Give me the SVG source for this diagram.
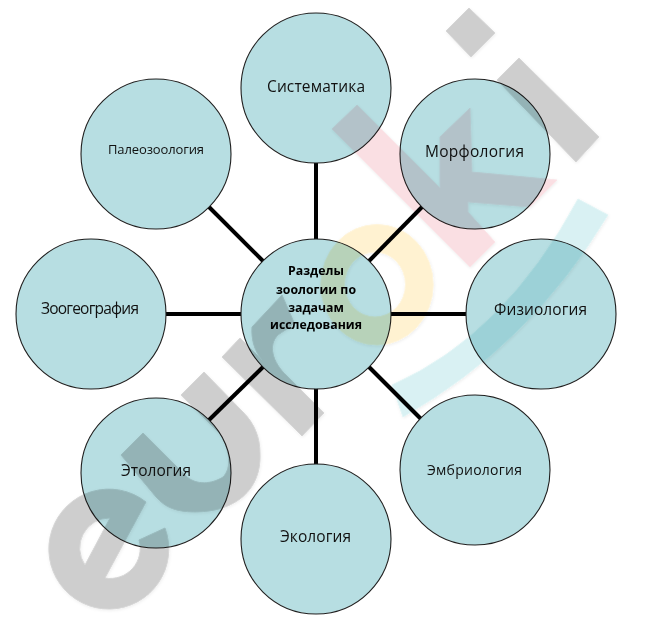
<svg xmlns="http://www.w3.org/2000/svg" width="653" height="624" viewBox="0 0 653 624">
<style>
.n{fill:#B7DEE2;stroke:#1f1f1f;stroke-width:1.1}
.t{font-family:"Open Sans","Noto Sans","Liberation Sans",sans-serif;font-size:15.5px;fill:#111}
.s{font-size:14px}
.p{font-size:13px}
.b{font-family:"Open Sans","Noto Sans","Liberation Sans",sans-serif;font-size:12.3px;font-weight:700;fill:#000;text-anchor:middle}
.c line{stroke:#000;stroke-width:4}
.w{mix-blend-mode:multiply}
.g{fill:#CECECE;stroke:#D6D6D6;stroke-width:1}
</style>
<defs>
<filter id="sh" x="-10%" y="-10%" width="120%" height="120%"><feDropShadow dx="0.5" dy="1" stdDeviation="1.5" flood-color="#000" flood-opacity="0.07"/></filter>
</defs>
<rect width="653" height="624" fill="#fff"/>
<g id="connectors" class="c">
<line x1="316" y1="163" x2="316" y2="240"/>
<line x1="316" y1="388" x2="316" y2="465"/>
<line x1="166" y1="314" x2="241" y2="314"/>
<line x1="391" y1="314" x2="466" y2="314"/>
<line x1="209" y1="207" x2="263" y2="261"/>
<line x1="422" y1="207" x2="369" y2="261"/>
<line x1="209" y1="420" x2="263" y2="367"/>
<line x1="422" y1="420" x2="369" y2="367"/>
</g>
<g id="node-center"><circle class="n" cx="316" cy="314" r="75"/></g>
<g id="node-systematika"><circle class="n" cx="316" cy="88" r="75"/></g>
<g id="node-morphology"><circle class="n" cx="475" cy="154" r="75"/></g>
<g id="node-physiology"><circle class="n" cx="541" cy="314" r="75"/></g>
<g id="node-embryology"><circle class="n" cx="475" cy="470" r="75"/></g>
<g id="node-ecology"><circle class="n" cx="316" cy="539" r="75"/></g>
<g id="node-ethology"><circle class="n" cx="156" cy="473" r="75"/></g>
<g id="node-zoogeography"><circle class="n" cx="91" cy="314" r="75"/></g>
<g id="node-paleozoology"><circle class="n" cx="156" cy="154" r="75"/></g>
<g id="watermark" class="w" filter="url(#sh)">
<path class="g" d="M469,8L495,33L471,57L446,31Z"/>
<path class="g" d="M519,58L599,137L576,162L497,80Z"/>
<path fill="#FADFE3" stroke="#FBE6E9" d="M357,105L440,188L440,137L470,108L472,172L557,180L530,207L468,202L468,212L495,242L470,267L332,129Z"/>
<path fill="#FFF2D1" stroke="#FFF5DC" fill-rule="evenodd" d="M377,224.500A56,60 0 1 0 377,345A56,60 0 1 0 377,224.500ZM375,252A30,32 0 1 1 375,317A30,32 0 1 1 375,252Z"/>
<path fill="#D9F1F3" stroke="#E2F5F6" d="M392,385Q505,335 578,199L608,215Q530,345 403,417Z"/>
<path class="g" d="M282,295L252,327C251,340 255,352 262,360L240,338L222,357L302,436L324,413L287,376C272,362 268,345 278,335C288,328 296,325 293,320Z"/>
<path class="g" d="M204,372L243,412C255,424 260,438 260,453C262,490 235,512 195,512C175,512 165,507 156,497L121,455L143,433L187,477C200,487 215,482 223,477C232,468 230,450 220,434L181,395Z"/>
<path class="g" fill-rule="evenodd" d="M146,502A60,60 0 1 0 165,528L139,540A30,30 0 0 1 105,578ZM110,518A30,30 0 0 0 85,565Z"/>
</g>
<text class="b" x="316" y="275">Разделы</text>
<text class="b" x="316" y="294">зоологии по</text>
<text class="b" x="316" y="312">задачам</text>
<text class="b" x="316" y="329">исследования</text>
<text class="t" x="267" y="92" textLength="98">Систематика</text>
<text class="t" x="425" y="157" textLength="99">Морфология</text>
<text class="t" x="494" y="315" textLength="93">Физиология</text>
<text class="t s" x="427" y="475" textLength="95">Эмбриология</text>
<text class="t" x="280" y="542" textLength="71">Экология</text>
<text class="t" x="121" y="476" textLength="70">Этология</text>
<text class="t" x="41" y="314" textLength="98">Зоогеография</text>
<text class="t p" x="108" y="154" textLength="96">Палеозоология</text>
</svg>
